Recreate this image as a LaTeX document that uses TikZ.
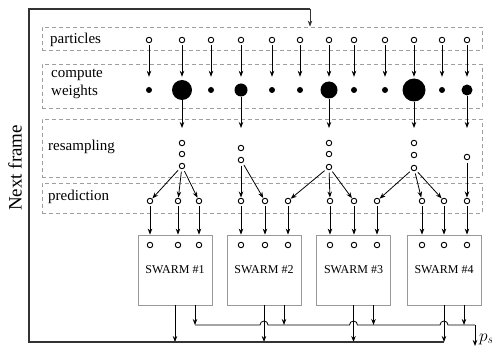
\documentclass[tikz,border=0pt]{standalone}
\usepackage{fontspec}
\setmainfont{Liberation Serif}
\usetikzlibrary{arrows.meta}
\begin{document}
\begin{tikzpicture}[x=1pt,y=-1pt,
  pt/.style={circle,draw,line width=0.9pt,inner sep=0pt,minimum size=5.5pt,fill=white},
  arr/.style={-{Stealth[length=6pt,width=4.5pt]},line width=0.8pt},
  dbox/.style={draw=gray!75,dash pattern=on 4pt off 3pt,line width=0.8pt,inner sep=0pt},
  lbl/.style={font=\fontsize{15}{18}\selectfont,align=left,anchor=west,inner sep=0pt},
  swarm/.style={draw=gray!80,line width=0.8pt,minimum width=74pt,minimum height=70pt,inner sep=0pt,font=\fontsize{12}{14}\selectfont},
  frame/.style={draw=black!80,line width=1.1pt}
]
\useasboundingbox (0,0) rectangle (492,347);

% dashed stage boxes
\node[dbox,minimum width=440pt,minimum height=23pt] (bpart) at (262,38.5) {};
\node[dbox,minimum width=440pt,minimum height=44pt] (bwgt) at (262,86) {};
\node[dbox,minimum width=440pt,minimum height=58pt] (bres) at (262,148) {};
\node[dbox,minimum width=440pt,minimum height=30pt] (bpred) at (262,198) {};

% stage labels
\node[lbl] (lp) at (50,40) {particles};
\node[lbl] (lc) at (51,84) {compute\\weights};
\node[lbl] (lr) at (48,147) {resampling};
\node[lbl] (lq) at (48,197) {prediction};
\node[rotate=90,font=\fontsize{19}{22}\selectfont] (nf) at (15,168) {Next frame};

% particles and weights
\foreach \x/\r [count=\i] in {149/3,182/10,211/3,241/6.5,272/3,300/3,329/8.5,354/3,385/3,414/11.5,442/3,467/5.5} {
  \pgfmathsetmacro\d{2*\r}
  \pgfmathsetmacro\s{13-\r}
  \node[pt] (p\i) at (\x,40) {};
  \node[circle,fill=black,inner sep=0pt,minimum size=\d pt] (w\i) at (\x,90) {};
  \draw[arr,shorten <=2pt,shorten >=\s pt] (p\i) -- (w\i);
}

% resampled particles
\coordinate (tip) at (0,128);
\node[pt] (r2a) at (182,143) {};
\node[pt] (r2b) at (182,154) {};
\node[pt] (r2c) at (182,166) {};
\node[pt] (r4a) at (241,148) {};
\node[pt] (r4b) at (241,160) {};
\node[pt] (r7a) at (329,143) {};
\node[pt] (r7b) at (329,154) {};
\node[pt] (r7c) at (329,167) {};
\node[pt] (r10a) at (414,143) {};
\node[pt] (r10b) at (414,155) {};
\node[pt] (r10c) at (414,168) {};
\node[pt] (r12a) at (467,157) {};
\foreach \i in {2,4,7,10,12} {
  \draw[arr] (w\i) -- (w\i |- tip);
}

% predicted particles, swarms
\foreach \k/\x in {1/175,2/264,3/353.5,4/444} {
  \node[swarm] (s\k) at (\x,270) {SWARM \#\k};
}
\foreach \x [count=\i] in {150,178,199,241,265,288,330,354,377,422,444,467} {
  \pgfmathtruncatemacro\k{(\i+2)/3}
  \node[pt] (q\i) at (\x,201) {};
  \node[pt] (c\i) at (\x,245) {};
  \draw[arr,shorten <=2pt] (q\i) -- (q\i |- s\k.north);
}

% resampling -> prediction
\foreach \a/\b in {r2c/q1,r2c/q2,r2c/q3,r4b/q4,r4b/q5,r7c/q6,r7c/q7,r7c/q8,r10c/q9,r10c/q10,r10c/q11,r12a/q12} {
  \draw[arr,shorten <=2.5pt,shorten >=0.3pt] (\a) -- (\b);
}

% outputs
\coordinate (bl) at (29,342);
\coordinate (tl) at (29,9);
\coordinate (tr) at (310,9);
\coordinate (mid) at (0,325);
\coordinate (pend) at (475,325);
\coordinate (pout) at (475,346);
\foreach \k in {1,...,4} {
  \draw[arr] (s\k.south) -- (s\k.south |- bl);
  \draw[arr] ([xshift=20pt]s\k.south) -- ([xshift=20pt]s\k.south |- mid);
}
\draw[line width=0.8pt] ([xshift=20pt]s1.south |- mid)
  -- ([xshift=-4pt]s2.south |- mid) arc[start angle=180,end angle=360,radius=4]
  -- ([xshift=-4pt]s3.south |- mid) arc[start angle=180,end angle=360,radius=4]
  -- ([xshift=-4pt]s4.south |- mid) arc[start angle=180,end angle=360,radius=4]
  -- (pend);
\draw[arr] (pend) -- (pout);
\node[anchor=base west,inner sep=0pt,font=\fontsize{17}{20}\selectfont] (plab) at (479,341) {$p_s$};

% feedback frame
\draw[frame] (s4.south |- bl) -- (bl) -- (tl) -- (tr);
\draw[frame,arr] (tr) -- (tr |- bpart.north);
\end{tikzpicture}
\end{document}
